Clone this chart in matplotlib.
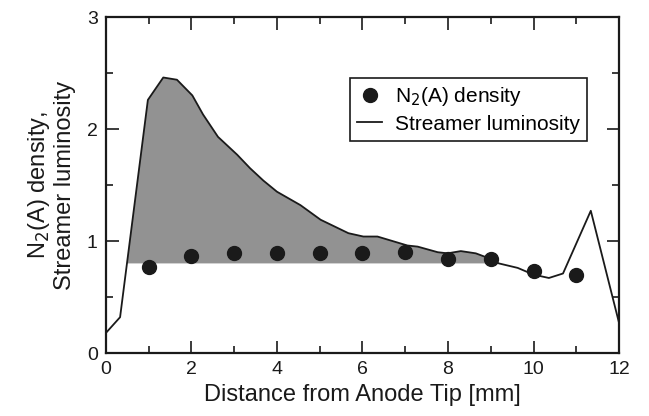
import matplotlib
matplotlib.use("Agg")
from matplotlib import pyplot as plt
from matplotlib.ticker import MultipleLocator
import numpy as np

plt.rcParams['font.family'] = ['Liberation Sans', 'DejaVu Sans']

# streamer luminosity trace
lum_x = [0.0, 0.33, 0.98, 1.34, 1.66, 2.02, 2.27, 2.62, 3.07, 3.37, 3.68, 4.0,
         4.55, 5.02, 5.67, 6.02, 6.35, 7.05, 7.29, 7.76, 7.99, 8.30, 8.65,
         8.93, 9.19, 9.63, 10.0, 10.36, 10.69, 11.34, 12.0]
lum_y = [0.18, 0.32, 2.26, 2.46, 2.44, 2.30, 2.13, 1.93, 1.77, 1.65, 1.54, 1.44,
         1.32, 1.19, 1.07, 1.04, 1.04, 0.96, 0.95, 0.90, 0.89, 0.91, 0.89,
         0.85, 0.80, 0.76, 0.70, 0.67, 0.71, 1.27, 0.27]

# N2(A) density points
n2_x = [1, 2, 3, 4, 5, 6, 7, 8, 9, 10, 11]
n2_y = [0.77, 0.87, 0.89, 0.89, 0.89, 0.89, 0.90, 0.84, 0.84, 0.73, 0.70]

shade_base = 0.8
shade_xmax = 9.5

fig = plt.figure(figsize=(6.49, 4.16), dpi=100)
ax = fig.add_axes([0.1633, 0.1514, 0.7905, 0.8077])

lx = np.array(lum_x)
ly = np.array(lum_y)
ax.fill_between(lx, shade_base, ly, where=(ly > shade_base) & (lx < shade_xmax),
                interpolate=True, facecolor='#929292', edgecolor='none', zorder=1)
ax.plot(lum_x, lum_y, color='#1a1a1a', lw=1.3, label='Streamer luminosity', zorder=2)
ax.plot(n2_x, n2_y, 'o', color='#1a1a1a', ms=10, label='N$_2$(A) density', zorder=3)

ax.set_xlim(0, 12)
ax.set_ylim(0, 3)
ax.xaxis.set_major_locator(MultipleLocator(2))
ax.xaxis.set_minor_locator(MultipleLocator(1))
ax.yaxis.set_major_locator(MultipleLocator(1))
ax.yaxis.set_minor_locator(MultipleLocator(0.5))
ax.tick_params(which='both', direction='in', top=True, right=True, width=1.2,
               labelsize=14, colors='#1a1a1a')
ax.tick_params(which='major', length=9, pad=6)
ax.tick_params(which='minor', length=5)
for s in ax.spines.values():
    s.set_linewidth(1.6)
    s.set_color('#1a1a1a')

ax.set_xlabel('Distance from Anode Tip [mm]', fontsize=17, color='#1a1a1a')
ax.set_ylabel('N$_2$(A) density,\nStreamer luminosity', fontsize=17,
              color='#1a1a1a', linespacing=1.1, labelpad=8)

handles, labels = ax.get_legend_handles_labels()
leg = ax.legend(handles[::-1], labels[::-1], loc='upper left',
                bbox_to_anchor=(0.476, 0.818), borderaxespad=0, fontsize=15,
                fancybox=False, framealpha=1, edgecolor='#1a1a1a',
                handlelength=1.2, handletextpad=0.6, borderpad=0.35,
                labelspacing=0.3)
leg.get_frame().set_linewidth(1.2)

fig.savefig('out.png', dpi=100)
